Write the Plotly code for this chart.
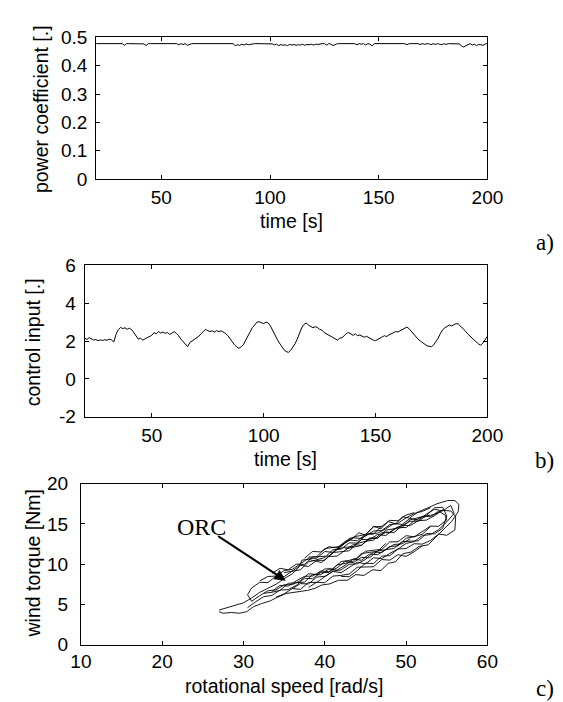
import plotly.graph_objects as go

# ---------------- data ----------------
time_s = list(range(20, 201))

power_coef = [
    0.478, 0.478, 0.477, 0.478, 0.478, 0.478, 0.477, 0.478, 0.478, 0.478,
    0.478, 0.477, 0.478, 0.472, 0.478, 0.478, 0.478, 0.477, 0.478, 0.478,
    0.478, 0.478, 0.477, 0.471, 0.478, 0.478, 0.478, 0.478, 0.478, 0.477,
    0.478, 0.478, 0.478, 0.478, 0.478, 0.477, 0.478, 0.478, 0.474, 0.478,
    0.475, 0.478, 0.472, 0.476, 0.478, 0.478, 0.478, 0.478, 0.478, 0.478,
    0.478, 0.478, 0.478, 0.478, 0.478, 0.478, 0.478, 0.478, 0.478, 0.478,
    0.478, 0.478, 0.478, 0.478, 0.471, 0.474, 0.472, 0.476, 0.473, 0.477,
    0.474, 0.476, 0.478, 0.478, 0.478, 0.478, 0.478, 0.478, 0.478, 0.478,
    0.478, 0.477, 0.474, 0.476, 0.471, 0.475, 0.472, 0.474, 0.471, 0.475,
    0.473, 0.475, 0.472, 0.474, 0.473, 0.476, 0.472, 0.475, 0.474, 0.476,
    0.473, 0.476, 0.475, 0.477, 0.478, 0.478, 0.473, 0.478, 0.476, 0.471,
    0.475, 0.478, 0.478, 0.478, 0.478, 0.477, 0.478, 0.478, 0.478, 0.478,
    0.474, 0.478, 0.476, 0.478, 0.473, 0.478, 0.476, 0.470, 0.478, 0.478,
    0.478, 0.478, 0.477, 0.478, 0.478, 0.478, 0.478, 0.478, 0.478, 0.478,
    0.478, 0.477, 0.478, 0.474, 0.478, 0.478, 0.478, 0.478, 0.478, 0.475,
    0.478, 0.476, 0.478, 0.478, 0.474, 0.478, 0.475, 0.478, 0.476, 0.474,
    0.478, 0.475, 0.478, 0.478, 0.478, 0.478, 0.478, 0.477, 0.471, 0.466,
    0.470, 0.474, 0.478, 0.473, 0.476, 0.471, 0.475, 0.474, 0.472, 0.477,
    0.478,
]

control_input = [
    2.15, 2.08, 2.18, 2.10, 2.05, 2.08, 2.02, 2.06, 2.03, 2.07,
    2.04, 2.10, 2.06, 1.95, 2.35, 2.60, 2.72, 2.66, 2.70, 2.62,
    2.68, 2.60, 2.45, 2.25, 2.10, 2.15, 2.05, 2.12, 2.18, 2.22,
    2.30, 2.45, 2.38, 2.50, 2.42, 2.48, 2.40, 2.45, 2.35, 2.42,
    2.50, 2.40, 2.28, 2.10, 1.95, 1.80, 1.70, 1.92, 2.00, 2.08,
    2.15, 2.25, 2.38, 2.50, 2.62, 2.55, 2.50, 2.54, 2.48, 2.55,
    2.50, 2.54, 2.48, 2.40, 2.28, 2.10, 1.92, 1.80, 1.68, 1.62,
    1.70, 1.82, 2.05, 2.30, 2.55, 2.72, 2.85, 3.00, 3.02, 2.95,
    2.92, 3.00, 2.96, 2.80, 2.55, 2.30, 2.10, 1.90, 1.72, 1.55,
    1.45, 1.40, 1.50, 1.65, 1.85, 2.10, 2.40, 2.70, 2.88, 2.95,
    2.85, 2.75, 2.70, 2.76, 2.72, 2.62, 2.58, 2.45, 2.38, 2.30,
    2.22, 2.18, 2.12, 2.05, 2.15, 2.18, 2.28, 2.40, 2.45, 2.35,
    2.30, 2.38, 2.28, 2.32, 2.24, 2.20, 2.25, 2.18, 2.10, 2.05,
    2.02, 2.10, 2.15, 2.22, 2.28, 2.24, 2.32, 2.38, 2.45, 2.50,
    2.48, 2.55, 2.60, 2.68, 2.74, 2.65, 2.50, 2.40, 2.25, 2.10,
    2.00, 1.90, 1.82, 1.75, 1.72, 1.70, 1.80, 1.95, 2.15, 2.40,
    2.60, 2.70, 2.78, 2.85, 2.80, 2.88, 2.92, 2.90, 2.80, 2.70,
    2.55, 2.40, 2.28, 2.15, 2.05, 1.95, 1.85, 1.78, 1.90, 2.10,
    2.25,
]

# ---- phase-plane trajectory: rotational speed [rad/s] vs wind torque [Nm] ----
# outer envelope loop
outer_speed = [
    27.0, 28.0, 29.0, 30.0, 31.0, 32.0, 33.0, 34.0, 35.0, 36.0, 36.8, 37.2, 38.0, 38.8, 39.6,
    40.5, 41.5, 42.5, 43.4, 44.2, 45.0, 46.0, 46.9, 47.8, 48.7, 49.6, 50.4, 51.5, 52.7, 53.8,
    55.1, 56.0, 56.5,
    56.4, 55.6, 54.7, 53.7, 52.7, 51.6, 50.6, 49.6, 48.7, 47.8, 46.9, 45.9, 44.8, 43.8, 42.8,
    41.7, 40.6, 39.6, 38.8, 37.9, 36.5, 35.2, 34.2, 33.2, 32.2, 31.2, 30.4, 29.5, 28.5, 27.5, 27.0,
]
outer_torque = [
    4.3, 4.6, 4.9, 5.2, 5.8, 6.5, 7.0, 7.5, 8.2, 8.8, 9.6, 10.5, 10.6, 10.4, 10.2,
    11.0, 11.8, 12.6, 13.2, 13.9, 13.6, 14.7, 14.4, 15.3, 15.0, 15.9, 15.7, 16.5, 17.0, 17.5,
    17.9, 17.9, 17.4,
    16.5, 15.3, 14.4, 13.4, 12.4, 12.2, 11.5, 11.3, 10.3, 10.1, 9.2, 9.3, 8.6, 8.7, 8.0,
    8.0, 7.55, 7.4, 7.0, 6.75, 6.5, 6.35, 5.9, 5.4, 5.1, 4.7, 4.1, 3.9, 4.0, 3.9, 4.1,
]

# swings above the optimal-regime line (moving towards higher speed)
up1_speed = [31, 32, 33, 34, 35, 36, 37, 38, 39, 40, 41, 42, 43, 44, 45, 46, 47, 48, 49, 50,
             51, 52, 53, 54]
up1_torque = [7.04, 7.75, 7.71, 8.52, 8.45, 9.19, 9.85, 9.71, 10.47, 10.48, 11.44, 11.55, 11.66,
              12.57, 12.83, 12.99, 13.90, 13.91, 14.62, 14.53, 15.39, 15.90, 15.91, 16.57]
up2_speed = [33.5, 34.5, 35.5, 36.5, 37.5, 38.5, 39.5, 40.5, 41.5, 42.5, 43.5, 44.5, 45.5, 46.5,
             47.5, 48.5, 49.5, 50.5, 51.5, 52.5, 53.5, 54.5, 55.5]
up2_torque = [8.87, 9.48, 9.30, 10.01, 9.97, 10.89, 10.95, 11.01, 11.87, 12.09, 12.20, 13.06,
              13.03, 13.69, 13.55, 14.37, 14.83, 14.79, 15.40, 15.47, 16.03, 16.69, 16.60]
up3_speed = [35, 36, 37, 38, 39, 40, 41, 42, 43, 44, 45, 46, 47, 48, 49, 50, 51, 52, 53]
up3_torque = [8.95, 9.12, 9.30, 10.27, 10.59, 10.82, 11.79, 11.86, 12.64, 12.61, 13.53, 14.11,
              14.18, 14.90, 15.08, 15.75, 16.30, 16.55, 17.0]
up4_speed = [37.5, 38.5, 39.5, 40.5, 41.5, 42.5, 43.5, 44.5, 45.5, 46.5, 47.5, 48.5, 49.5, 50.5,
             51.5, 52.5, 53.5, 54.5, 55.5]
up4_torque = [10.73, 11.58, 11.52, 12.17, 12.01, 12.81, 13.26, 13.20, 13.80, 13.84, 14.39, 15.04,
              14.93, 15.68, 15.47, 16.22, 16.82, 16.61, 17.30]
up5_speed = [32, 33, 34, 35, 36, 37, 38, 39, 40, 41, 42, 43, 44, 45, 46, 47]
up5_torque = [7.93, 8.47, 8.52, 9.21, 9.35, 10.0, 10.74, 10.73, 11.57, 11.47, 12.31, 13.0, 12.90,
              13.69, 13.73, 14.73]
up6_speed = [40.5, 41.5, 42.5, 43.5, 44.5, 45.5, 46.5, 47.5, 48.5, 49.5, 50.5, 51.5, 52.5, 53.5,
             54.5]
up6_torque = [10.95, 10.99, 11.72, 12.43, 12.34, 13.16, 13.22, 14.23, 14.39, 14.55, 15.51, 15.82,
              16.04, 17.0, 17.06]
up7_speed = [38, 39, 40, 41, 42, 43, 44, 45, 46, 47, 48, 49, 50, 51]
up7_torque = [10.87, 10.92, 11.92, 12.08, 12.23, 13.18, 13.48, 13.68, 14.63, 14.69, 15.44, 15.39,
              16.1, 16.4]
up8_speed = [42.5, 43.5, 44.5, 45.5, 46.5, 47.5, 48.5, 49.5, 50.5, 51.5, 52.5, 53.5, 54.5]
up8_torque = [11.88, 12.15, 12.33, 13.25, 13.27, 14.0, 13.92, 14.79, 15.32, 15.34, 16.01, 16.14,
              16.76]

# swings below the optimal-regime line (moving back towards lower speed)
dn1_speed = [55, 54, 53, 52, 51, 50, 49, 48, 47, 46, 45, 44, 43, 42, 41, 40, 39, 38, 37, 36, 35,
             34, 33, 32, 31, 30.5, 31]
dn1_torque = [15.50, 14.70, 14.72, 14.04, 13.39, 13.54, 12.78, 12.77, 11.83, 11.73, 11.60, 10.72,
              10.47, 10.32, 9.41, 9.41, 8.71, 8.81, 7.95, 7.45, 7.45, 6.80, 6.69, 6.09, 5.39,
              6.2, 7.04]
dn2_speed = [54.5, 53.5, 52.5, 51.5, 50.5, 49.5, 48.5, 47.5, 46.5, 45.5, 44.5, 43.5, 42.5, 41.5,
             40.5, 39.5, 38.5, 37.5, 36.5, 35.5, 34.5, 33.5]
dn2_torque = [14.46, 13.76, 13.81, 12.90, 12.85, 12.80, 11.95, 11.75, 11.64, 10.79, 10.84, 10.19,
              10.34, 9.53, 9.08, 9.13, 8.53, 8.48, 7.93, 7.27, 7.37, 6.62]
dn3_speed = [53, 52, 51, 50, 49, 48, 47, 46, 45, 44, 43, 42, 41, 40, 39, 38, 37, 36, 35, 34]
dn3_torque = [14.67, 13.72, 13.41, 13.21, 12.26, 12.20, 11.45, 11.50, 10.59, 10.04, 9.99, 9.29,
              9.13, 8.48, 7.73, 7.72, 6.87, 6.97, 6.3, 5.9]
dn4_speed = [56, 55, 54, 53, 52, 51, 50, 49, 48, 47, 46, 45, 44, 43, 42, 41, 40, 39, 38, 37, 36]
dn4_torque = [14.24, 13.59, 13.74, 12.94, 12.49, 12.54, 11.94, 11.89, 11.34, 10.69, 10.79, 10.04,
              10.24, 9.59, 8.94, 9.09, 8.49, 8.39, 7.54, 7.59, 6.94]
dn5_speed = [50.5, 49.5, 48.5, 47.5, 46.5, 45.5, 44.5, 43.5, 42.5, 41.5, 40.5, 39.5, 38.5, 37.5,
             36.5, 35.5, 34.5, 33.5, 32.5]
dn5_torque = [13.15, 12.52, 12.44, 11.86, 11.18, 11.26, 10.48, 10.65, 9.87, 9.24, 9.41, 8.68,
              8.70, 7.77, 7.70, 7.62, 6.74, 6.51, 6.38]
dn6_speed = [52, 51, 50, 49, 48, 47, 46, 45, 44, 43, 42, 41, 40, 39, 38]
dn6_torque = [12.28, 11.55, 10.96, 11.18, 10.50, 10.57, 9.68, 9.65, 9.62, 8.78, 8.60, 8.52, 7.69,
              7.75, 7.12]
dn7_speed = [47.5, 46.5, 45.5, 44.5, 43.5, 42.5, 41.5, 40.5, 39.5, 38.5, 37.5, 36.5, 35.5, 34.5,
             33.5, 32.5, 31.5, 30.5]
dn7_torque = [12.58, 11.59, 11.46, 11.32, 10.38, 10.09, 9.91, 8.97, 8.93, 8.19, 8.25, 7.37, 6.83,
              6.79, 6.11, 5.97, 5.33, 4.60]
dn8_speed = [55, 54, 53, 52, 51, 50, 49, 48, 47, 46, 45, 44, 43, 42]
dn8_torque = [15.25, 14.29, 13.67, 13.56, 12.80, 12.58, 11.87, 11.06, 11.0, 10.08, 10.12, 9.21,
              8.44, 8.48]

# turning points at the high-speed end joining an upper swing to a lower one
turn_speed = [54.8, 56.1, 55.9, 55.0]
turn_torque = [16.1, 15.9, 16.3, 16.0]

time_ticks = [50, 100, 150, 200]
cp_ticks = [0, 0.1, 0.2, 0.3, 0.4, 0.5]
cp_tick_text = ["0", "0.1", "0.2", "0.3", "0.4", "0.5"]
u_ticks = [-2, 0, 2, 4, 6]
speed_ticks = [10, 20, 30, 40, 50, 60]
torque_ticks = [0, 5, 10, 15, 20]


def seg(sp, tq):
    n = min(len(sp), len(tq))
    return list(sp[:n]), list(tq[:n])


def join(*parts):
    xs, ys = [], []
    for sp, tq in parts:
        a, b = seg(sp, tq)
        xs.extend(a)
        ys.extend(b)
    return xs, ys


def turn(i):
    return [turn_speed[i]], [turn_torque[i]]


paths = [
    (outer_speed, outer_torque),
    join((up1_speed, up1_torque), turn(0), (dn1_speed, dn1_torque)),
    join((up2_speed, up2_torque), turn(1), (dn4_speed, dn4_torque)),
    join((up4_speed, up4_torque), turn(2), (dn8_speed, dn8_torque)),
    join((up6_speed, up6_torque), turn(3), (dn2_speed, dn2_torque)),
    (up3_speed, up3_torque), (dn3_speed, dn3_torque),
    (up5_speed, up5_torque), (up7_speed, up7_torque), (up8_speed, up8_torque),
    (dn5_speed, dn5_torque), (dn6_speed, dn6_torque), (dn7_speed, dn7_torque),
]
rot_speed, wind_torque = [], []
for sp, tq in paths:
    a, b = seg(sp, tq)
    rot_speed.extend(a + [None])
    wind_torque.extend(b + [None])

# ---------------- figure ----------------
W, H = 563, 702
SANS = "Liberation Sans, Arial, sans-serif"
SERIF = "Liberation Serif, Times New Roman, serif"
TICKFONT = dict(family=SANS, size=19, color="black")
TITLEFONT = dict(family=SANS, size=19.5, color="black")


def px_x(p):
    return p / W


def px_y(p):
    return 1 - p / H


def axis(**kw):
    base = dict(showline=True, linecolor="black", linewidth=1, mirror="ticks",
                ticks="inside", ticklen=4, tickcolor="black", tickwidth=1,
                showgrid=False, zeroline=False, tickfont=TICKFONT)
    base.update(kw)
    return base


fig = go.Figure()
line = dict(color="black", width=1)
fig.add_trace(go.Scatter(x=time_s, y=power_coef, mode="lines", line=line,
                         xaxis="x", yaxis="y"))
fig.add_trace(go.Scatter(x=time_s, y=control_input, mode="lines", line=line,
                         xaxis="x2", yaxis="y2"))
fig.add_trace(go.Scatter(x=rot_speed, y=wind_torque, mode="lines", connectgaps=False,
                         line=dict(color="black", width=0.9),
                         xaxis="x3", yaxis="y3"))

fig.update_layout(
    width=W, height=H, margin=dict(l=0, r=0, t=0, b=0),
    paper_bgcolor="white", plot_bgcolor="white", showlegend=False,
    xaxis=axis(domain=[px_x(81), px_x(492)], range=[20, 200], anchor="y",
               tickvals=time_ticks, ticktext=[str(v) for v in time_ticks],
               ticklabelstandoff=1),
    yaxis=axis(domain=[px_y(166), px_y(20)], range=[0, 0.5], anchor="x",
               tickvals=cp_ticks, ticktext=cp_tick_text, ticklabelstandoff=4),
    xaxis2=axis(domain=[px_x(69), px_x(492)], range=[20, 200], anchor="y2",
                tickvals=time_ticks, ticktext=[str(v) for v in time_ticks],
                ticklabelstandoff=1),
    yaxis2=axis(domain=[px_y(411), px_y(255)], range=[-2, 6], anchor="x2",
                tickvals=u_ticks, ticktext=[str(v) for v in u_ticks], ticklabelstandoff=4),
    xaxis3=axis(domain=[px_x(65), px_x(492)], range=[10, 60], anchor="y3",
                tickvals=speed_ticks, ticktext=[str(v) for v in speed_ticks],
                ticklabelstandoff=0),
    yaxis3=axis(domain=[px_y(646), px_y(480)], range=[0, 20], anchor="x3",
                tickvals=torque_ticks, ticktext=[str(v) for v in torque_ticks],
                ticklabelstandoff=8),
)

ann = []
ann.append(dict(text="power coefficient [.]", x=px_x(23), y=px_y(94), textangle=-90))
ann.append(dict(text="time [s]", x=px_x(286), y=px_y(209)))
ann.append(dict(text="control input [.]", x=px_x(15), y=px_y(334), textangle=-90))
ann.append(dict(text="time [s]", x=px_x(280), y=px_y(455)))
ann.append(dict(text="wind torque [Nm]", x=px_x(15), y=px_y(562), textangle=-90))
ann.append(dict(text="rotational speed [rad/s]", x=px_x(278), y=px_y(689)))
for a in ann:
    a.update(xref="paper", yref="paper", showarrow=False, font=TITLEFONT,
             xanchor="center", yanchor="middle")

LABELFONT = dict(family=SERIF, size=23, color="black")
for lab, yy in (("a)", 231), ("b)", 456), ("c)", 691)):
    ann.append(dict(text=lab, x=px_x(552), y=px_y(yy), xref="paper", yref="paper",
                    showarrow=False, font=LABELFONT, xanchor="center", yanchor="middle"))

ann.append(dict(text="ORC", x=24.8, y=14.6, xref="x3", yref="y3", showarrow=False,
                font=dict(family=SERIF, size=24, color="black"),
                xanchor="center", yanchor="middle"))
ann.append(dict(text="", x=35.2, y=7.95, xref="x3", yref="y3",
                ax=26.7, ay=13.6, axref="x3", ayref="y3",
                showarrow=True, arrowhead=2, arrowsize=1.1, arrowwidth=2,
                arrowcolor="black"))

fig.update_layout(annotations=ann)
fig.write_html("out.html")
